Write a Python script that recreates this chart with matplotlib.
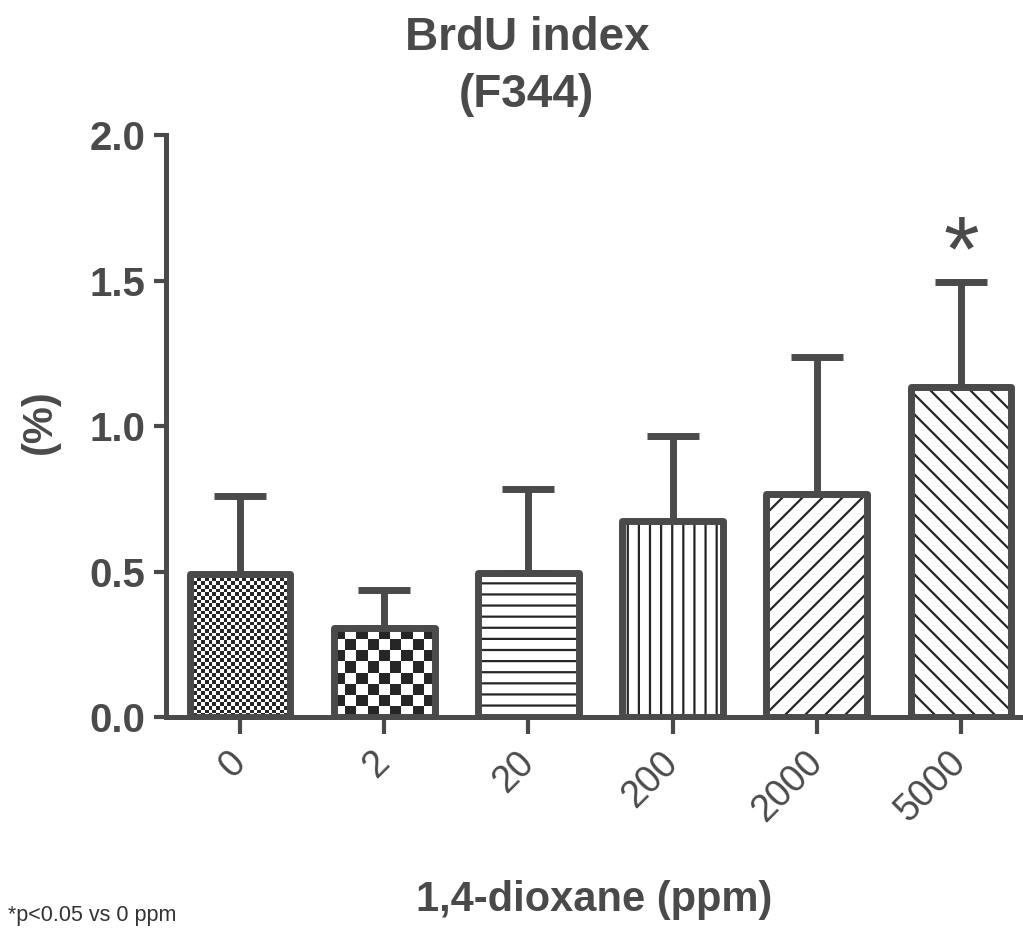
import numpy as np
import matplotlib
matplotlib.use('Agg')
import matplotlib.pyplot as plt
from matplotlib.colors import ListedColormap, to_rgba
from matplotlib.backend_bases import GraphicsContextBase

# dose groups and BrdU labelling index (mean, SD)
doses = ['0', '2', '20', '200', '2000', '5000']
brdu_mean = [0.49, 0.305, 0.495, 0.675, 0.765, 1.135]
brdu_sd = [0.27, 0.132, 0.29, 0.29, 0.472, 0.359]
significant = [False, False, False, False, False, True]

# fill styles per bar (checker cell size in px, or a hatch)
checker_px = [3.7, 11.5, None, None, None, None]
hatches = [None, None, '-', '|', '/', '\\']

INK = '#4a4a4a'
HATCH_INK = '#262626'

# a bit denser hatch lines than the default (integer px spacing so tiles join)
_orig_hatch_path = GraphicsContextBase.get_hatch_path


def _hatch_path(self, density=6.0):
    h = self.get_hatch() or ''
    dens = 10.0 if ('/' in h or '\\' in h) else 9.0
    return _orig_hatch_path(self, dens)


GraphicsContextBase.get_hatch_path = _hatch_path

plt.rcParams['font.family'] = ['Liberation Sans', 'DejaVu Sans']
plt.rcParams['font.weight'] = 'bold'
plt.rcParams['hatch.linewidth'] = 1.6

fig = plt.figure(figsize=(10.23, 9.33), dpi=100)
ax = fig.add_axes([0.1623, 0.2315, 0.8377, 0.6238])

x = np.arange(len(doses))
ax.set_xlim(-0.513, 5.43)
ax.set_ylim(0, 2.0)

bars = ax.bar(x, brdu_mean, width=0.7, color='white', edgecolor=INK,
              linewidth=5, joinstyle='round', zorder=2)
for bar, hatch, cell in zip(bars, hatches, checker_px):
    if hatch:
        bar.set_hatch(hatch)
        bar._hatch_color = to_rgba(HATCH_INK)
    if cell:
        bar.set_facecolor('none')

ax.errorbar(x, brdu_mean, yerr=[np.zeros(len(x)), brdu_sd], fmt='none',
            ecolor=INK, elinewidth=5, capsize=19, capthick=5, zorder=1)

# checkerboard fills, clipped to the bar outline
for bar, cell in zip(bars, checker_px):
    if cell is None:
        continue
    bb = bar.get_window_extent()
    nx = max(1, int(round(bb.width / cell)))
    ny = max(1, int(round(bb.height / cell)))
    board = np.indices((ny, nx)).sum(axis=0) % 2
    x0, w, h = bar.get_x(), bar.get_width(), bar.get_height()
    im = ax.imshow(board, extent=(x0, x0 + w, 0, h), origin='lower',
                   cmap=ListedColormap(['white', HATCH_INK]),
                   interpolation='nearest', aspect='auto', zorder=1.5)
    im.set_clip_path(bar)

ax.set_xlim(-0.513, 5.43)
ax.set_ylim(0, 2.0)

for xi, m, s, sig in zip(x, brdu_mean, brdu_sd, significant):
    if sig:
        ax.text(xi, m + s + 0.09, '*', ha='center', va='center',
                fontsize=66, fontweight='normal', color=INK)

for side in ['top', 'right']:
    ax.spines[side].set_visible(False)
for side in ['left', 'bottom']:
    ax.spines[side].set_linewidth(3.6)
    ax.spines[side].set_color(INK)

ax.set_yticks([0, 0.5, 1.0, 1.5, 2.0])
ax.set_yticklabels(['0.0', '0.5', '1.0', '1.5', '2.0'])
ax.set_xticks(x)
ax.set_xticklabels(doses, rotation=45, ha='right', va='center',
                   rotation_mode='anchor', fontweight='normal')
ax.tick_params(axis='y', length=9, width=3, pad=6, labelsize=29,
               colors=INK)
ax.tick_params(axis='x', length=12, width=3, pad=17, labelsize=27,
               colors=INK)

ax.set_ylabel('(%)', fontsize=30, fontweight='bold', color=INK)
ax.yaxis.set_label_coords(-0.124, 0.507)
ax.set_xlabel('1,4-dioxane (ppm)', fontsize=30, fontweight='bold', color=INK)
ax.xaxis.set_label_coords(0.5, -0.28)

fig.text(0.515, 0.983, 'BrdU index\n(F344)', ha='center', va='top',
         fontsize=33, linespacing=1.4, color=INK)
fig.text(0.008, 0.019, '*p<0.05 vs 0 ppm', ha='left', va='center',
         fontsize=15.5, fontweight='normal', color='#333333')

fig.savefig('out.png', dpi=100)
